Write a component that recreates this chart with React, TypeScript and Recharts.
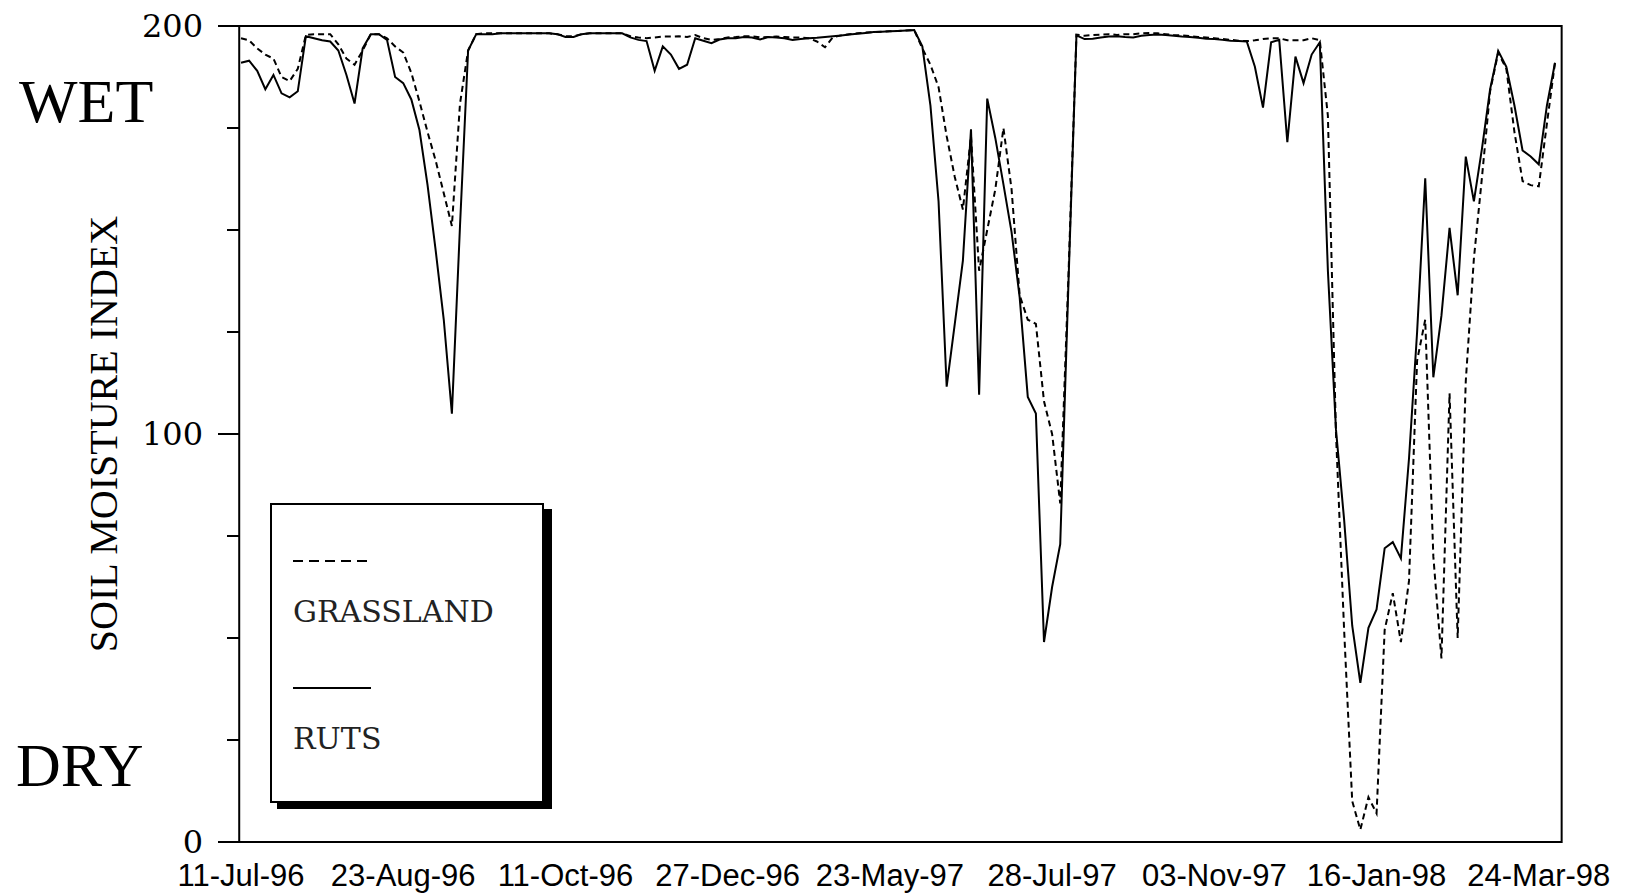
import { LineChart, Line, XAxis, YAxis, Legend, ReferenceArea } from 'recharts';

// x axis: one label every 20 readings
const TICK_LABELS = [
  '11-Jul-96', '23-Aug-96', '11-Oct-96', '27-Dec-96', '23-May-97',
  '28-Jul-97', '03-Nov-97', '16-Jan-98', '24-Mar-98',
];
const LABEL_STEP = 20;

const Y_TICKS = [0, 25, 50, 75, 100, 125, 150, 175, 200];
const Y_LABELED = [0, 100, 200];

// soil moisture index, one value per reading
const RUTS = [
  191, 191.5, 189, 184.5, 188, 183.5, 182.5, 184, 197.5, 197,
  196.5, 196.2, 194, 188, 181, 194.5, 198, 198, 196.6, 187.5,
  186, 182, 174.5, 161, 145, 128, 105, 151, 194, 198,
  198, 198, 198.2, 198.2, 198.2, 198.2, 198.2, 198.2, 198.2, 198,
  197.3, 197.3, 198, 198.2, 198.2, 198.2, 198.2, 198.2, 197.2, 196.6,
  196.3, 189, 195, 193, 189.5, 190.5, 197, 196.4, 195.8, 196.7,
  197, 197, 197.3, 197.2, 196.7, 197.3, 197.2, 197, 196.6, 196.8,
  197, 197.1, 197.3, 197.5, 197.7, 197.9, 198.1, 198.3, 198.5, 198.6,
  198.7, 198.8, 198.9, 199, 195, 180.5, 157, 111.6, 127, 142.5,
  174.7, 109.6, 182.2, 172.5, 161.2, 149.5, 133.5, 109.1, 105, 49,
  62.5, 73, 136, 197.7, 196.8, 196.9, 197.2, 197.4, 197.5, 197.3,
  197.2, 197.6, 197.8, 197.9, 197.8, 197.6, 197.4, 197.3, 197.1, 196.9,
  196.8, 196.6, 196.4, 196.3, 196.2, 190, 180, 196, 196.6, 171.5,
  192.5, 186, 193, 196, 140, 101, 79, 53, 39, 52.5,
  57, 72, 73.5, 69.5, 94, 125, 162.7, 113.9, 129, 150.5,
  134, 168, 157, 170, 184.5, 193.9, 190, 180.5, 169.5, 168,
  166.1, 180.5, 191,
];

const GRASSLAND = [
  197, 196.5, 194.5, 193, 192, 187.5, 186.5, 189.5, 197.8, 198,
  198, 198, 195.5, 192, 190.5, 194, 198, 198, 197, 195,
  193.5, 188.5, 181.5, 174, 167, 159, 151, 181, 194, 198,
  198.2, 198.2, 198.2, 198.2, 198.2, 198.2, 198.2, 198.2, 198.2, 198,
  197.5, 197.5, 198, 198.2, 198.2, 198.2, 198.2, 198.2, 197.5, 197.2,
  197, 197.2, 197.4, 197.4, 197.5, 197.3, 197.8, 197, 196.6, 196.8,
  197.2, 197.3, 197.5, 197.5, 197.2, 197.3, 197.4, 197.3, 197.2, 197.2,
  197, 196.2, 194.8, 197.3, 197.7, 198, 198.2, 198.4, 198.5, 198.6,
  198.7, 198.8, 198.9, 199, 194.5, 190.5, 185, 173, 163, 155,
  173, 140, 150, 160, 175, 160, 134, 128, 127, 108,
  100, 83, 138, 197.9, 197.6, 197.8, 197.9, 198, 197.8, 198,
  198, 198.2, 198.3, 198.2, 198, 197.8, 197.7, 197.5, 197.3, 197.2,
  197, 196.8, 196.6, 196.4, 196.3, 196.5, 196.8, 197, 197, 196.5,
  196.5, 196.5, 197, 196.5, 178, 100, 52, 10, 3, 11,
  7, 52, 61, 49, 64, 118, 128, 70, 45, 110,
  50, 113, 143, 163, 184, 193.5, 189.5, 174, 162, 161,
  160.7, 176, 191,
];

const SERIES = [
  { key: 'grass', name: 'GRASSLAND', dash: '6 4', legendDash: '10 6' },
  { key: 'ruts', name: 'RUTS', dash: undefined, legendDash: undefined },
];

const data = RUTS.map((r, i) => ({ i, ruts: r, grass: GRASSLAND[i] }));
const lastIndex = RUTS.length - 1;

function YTick(props: any) {
  const { x, y, payload } = props;
  const major = Y_LABELED.includes(payload.value);
  return (
    <g>
      <line x1={x - (major ? 21 : 12)} x2={x} y1={y} y2={y} stroke="#000" strokeWidth={2} />
      {major && (
        <text x={x - 36} y={y + 11} textAnchor="end" fontFamily="DejaVu Serif" fontSize={32} fill="#000">
          {payload.value}
        </text>
      )}
    </g>
  );
}

function XTick(props: any) {
  const { x, y, payload } = props;
  return (
    <text x={x} y={y + 44} textAnchor="middle" fontFamily="Liberation Sans, Arial" fontSize={31} fill="#000">
      {TICK_LABELS[Math.round(payload.value / LABEL_STEP)]}
    </text>
  );
}

function renderYTitle(props: any) {
  const vb = props.viewBox ?? { x: 0, y: 26, width: 239, height: 816 };
  const cx = vb.x + 117;
  const cy = vb.y + vb.height / 2;
  return (
    <g fontFamily="Liberation Serif, Times New Roman" fill="#000">
      <text x={cx} y={cy} transform={`rotate(-90 ${cx} ${cy})`} textAnchor="middle" fontSize={40}>
        SOIL MOISTURE INDEX
      </text>
      <text x={vb.x + 19} y={vb.y + 96} fontSize={62}>WET</text>
      <text x={vb.x + 16} y={vb.y + vb.height - 56} fontSize={62}>DRY</text>
    </g>
  );
}

function LegendBox() {
  return (
    <svg width={284} height={308} style={{ display: 'block' }}>
      <rect x={7} y={6} width={275} height={300} fill="#000" />
      <rect x={1} y={1} width={272} height={298} fill="#fff" stroke="#000" strokeWidth={2} />
      {SERIES.map((s, k) => (
        <g key={s.key}>
          <line x1={23} x2={101} y1={58 + k * 127} y2={58 + k * 127} stroke="#000" strokeWidth={2} strokeDasharray={s.legendDash} />
          <text x={23} y={119 + k * 127} fontFamily="DejaVu Serif" fontSize={30} fill="#222">
            {s.name}
          </text>
        </g>
      ))}
    </svg>
  );
}

export default function App() {
  return (
    <div style={{ position: 'fixed', left: 0, top: 0, background: '#fff' }}>
      <LineChart width={1627} height={896} data={data} margin={{ top: 26, right: 65, bottom: 0, left: 0 }}>
        <XAxis
          type="number"
          dataKey="i"
          domain={[0, lastIndex]}
          ticks={TICK_LABELS.map((_, k) => k * LABEL_STEP)}
          interval={0}
          tick={<XTick />}
          tickLine={false}
          axisLine={false}
          tickSize={0}
          tickMargin={0}
          height={54}
          padding={{ left: 2, right: 7 }}
        />
        <YAxis
          type="number"
          domain={[0, 200]}
          ticks={Y_TICKS}
          interval={0}
          tick={<YTick />}
          tickLine={false}
          axisLine={false}
          tickSize={0}
          tickMargin={0}
          width={239}
          label={renderYTitle}
        />
        <ReferenceArea
          x1={-0.22}
          x2={lastIndex + 0.82}
          y1={0}
          y2={200}
          ifOverflow="visible"
          fill="none"
          stroke="#000"
          strokeWidth={2}
        />
        {SERIES.map((s) => (
          <Line
            key={s.key}
            type="linear"
            dataKey={s.key}
            name={s.name}
            stroke="#000"
            strokeWidth={2}
            strokeDasharray={s.dash}
            dot={false}
            activeDot={false}
            isAnimationActive={false}
          />
        ))}
        <Legend
          layout="horizontal"
          verticalAlign="middle"
          align="center"
          wrapperStyle={{ left: 270, top: 503, width: 284, height: 308 }}
          content={<LegendBox />}
        />
      </LineChart>
    </div>
  );
}
